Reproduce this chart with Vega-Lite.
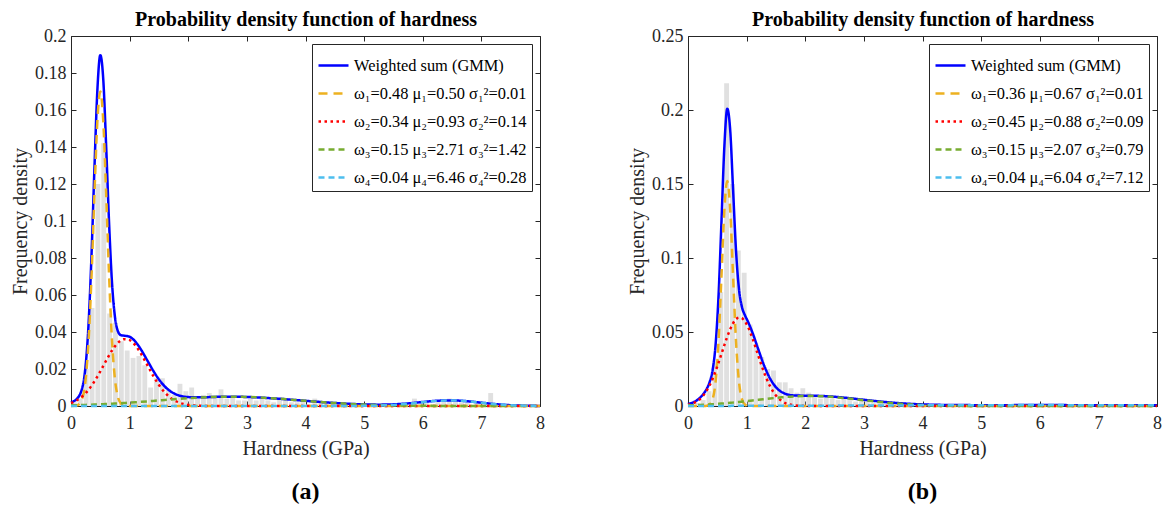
{
  "$schema": "https://vega.github.io/schema/vega-lite/v6.json",
  "padding": {"left": 10, "top": 9, "right": 5, "bottom": 0},
  "background": "white",
  "datasets": {
    "ha": [
      {"lo":0.0,"hi":0.1,"f":0.002},{"lo":0.1,"hi":0.2,"f":0.004},{"lo":0.2,"hi":0.3,"f":0.02},{"lo":0.3,"hi":0.4,"f":0.053},
      {"lo":0.4,"hi":0.5,"f":0.12},{"lo":0.5,"hi":0.6,"f":0.142},{"lo":0.6,"hi":0.7,"f":0.05},{"lo":0.7,"hi":0.8,"f":0.045},
      {"lo":0.8,"hi":0.9,"f":0.035},{"lo":0.9,"hi":1.0,"f":0.03},{"lo":1.0,"hi":1.1,"f":0.026},{"lo":1.1,"hi":1.2,"f":0.027},
      {"lo":1.2,"hi":1.3,"f":0.022},{"lo":1.3,"hi":1.4,"f":0.01},{"lo":1.4,"hi":1.5,"f":0.015},{"lo":1.5,"hi":1.6,"f":0.015},
      {"lo":1.6,"hi":1.7,"f":0.009},{"lo":1.7,"hi":1.8,"f":0.006},{"lo":1.8,"hi":1.9,"f":0.012},{"lo":1.9,"hi":2.0,"f":0.008},
      {"lo":2.0,"hi":2.1,"f":0.01},{"lo":2.1,"hi":2.2,"f":0.004},{"lo":2.2,"hi":2.3,"f":0.006},{"lo":2.3,"hi":2.4,"f":0.007},
      {"lo":2.4,"hi":2.5,"f":0.005},{"lo":2.5,"hi":2.6,"f":0.009},{"lo":2.6,"hi":2.7,"f":0.004},{"lo":2.7,"hi":2.8,"f":0.005},
      {"lo":2.8,"hi":2.9,"f":0.003},{"lo":2.9,"hi":3.0,"f":0.003},{"lo":3.0,"hi":3.1,"f":0.004},{"lo":3.1,"hi":3.2,"f":0.003},
      {"lo":3.2,"hi":3.3,"f":0.004},{"lo":3.3,"hi":3.4,"f":0.003},{"lo":3.4,"hi":3.5,"f":0.002},{"lo":3.5,"hi":3.6,"f":0.004},
      {"lo":3.6,"hi":3.7,"f":0.004},{"lo":3.7,"hi":3.8,"f":0.002},{"lo":3.8,"hi":3.9,"f":0.002},{"lo":3.9,"hi":4.0,"f":0.003},
      {"lo":4.0,"hi":4.1,"f":0.001},{"lo":4.1,"hi":4.2,"f":0.004},{"lo":4.2,"hi":4.3,"f":0.002},{"lo":4.3,"hi":4.4,"f":0.001},
      {"lo":4.4,"hi":4.5,"f":0.002},{"lo":4.5,"hi":4.6,"f":0.001},{"lo":4.7,"hi":4.8,"f":0.001},{"lo":5.0,"hi":5.1,"f":0.001},
      {"lo":5.2,"hi":5.3,"f":0.001},{"lo":5.5,"hi":5.6,"f":0.001},{"lo":5.7,"hi":5.8,"f":0.001},{"lo":5.8,"hi":5.9,"f":0.004},
      {"lo":5.9,"hi":6.0,"f":0.002},{"lo":6.0,"hi":6.1,"f":0.002},{"lo":6.2,"hi":6.3,"f":0.003},{"lo":6.3,"hi":6.4,"f":0.003},
      {"lo":6.4,"hi":6.5,"f":0.004},{"lo":6.5,"hi":6.6,"f":0.003},{"lo":6.6,"hi":6.7,"f":0.002},{"lo":6.7,"hi":6.8,"f":0.002},
      {"lo":6.9,"hi":7.0,"f":0.002},{"lo":7.1,"hi":7.2,"f":0.007},{"lo":7.3,"hi":7.4,"f":0.001}
    ],
    "hb": [
      {"lo":0.0,"hi":0.1,"f":0.001},{"lo":0.1,"hi":0.2,"f":0.002},{"lo":0.2,"hi":0.3,"f":0.004},{"lo":0.3,"hi":0.4,"f":0.01},
      {"lo":0.4,"hi":0.5,"f":0.03},{"lo":0.5,"hi":0.6,"f":0.077},{"lo":0.6,"hi":0.7,"f":0.218},{"lo":0.7,"hi":0.8,"f":0.15},
      {"lo":0.8,"hi":0.9,"f":0.105},{"lo":0.9,"hi":1.0,"f":0.09},{"lo":1.0,"hi":1.1,"f":0.055},{"lo":1.1,"hi":1.2,"f":0.042},
      {"lo":1.2,"hi":1.3,"f":0.033},{"lo":1.3,"hi":1.4,"f":0.025},{"lo":1.4,"hi":1.5,"f":0.024},{"lo":1.5,"hi":1.6,"f":0.016},
      {"lo":1.6,"hi":1.7,"f":0.016},{"lo":1.7,"hi":1.8,"f":0.012},{"lo":1.8,"hi":1.9,"f":0.009},{"lo":1.9,"hi":2.0,"f":0.012},
      {"lo":2.0,"hi":2.1,"f":0.009},{"lo":2.1,"hi":2.2,"f":0.006},{"lo":2.2,"hi":2.3,"f":0.005},{"lo":2.3,"hi":2.4,"f":0.007},
      {"lo":2.4,"hi":2.5,"f":0.005},{"lo":2.5,"hi":2.6,"f":0.004},{"lo":2.6,"hi":2.7,"f":0.005},{"lo":2.7,"hi":2.8,"f":0.004},
      {"lo":2.8,"hi":2.9,"f":0.003},{"lo":2.9,"hi":3.0,"f":0.004},{"lo":3.0,"hi":3.1,"f":0.003},{"lo":3.1,"hi":3.2,"f":0.002},
      {"lo":3.2,"hi":3.3,"f":0.003},{"lo":3.3,"hi":3.4,"f":0.002},{"lo":3.5,"hi":3.6,"f":0.002},{"lo":3.6,"hi":3.7,"f":0.002},
      {"lo":3.8,"hi":3.9,"f":0.001},{"lo":4.0,"hi":4.1,"f":0.001},{"lo":4.5,"hi":4.6,"f":0.001},{"lo":5.0,"hi":5.1,"f":0.001},
      {"lo":6.0,"hi":6.1,"f":0.001},{"lo":6.5,"hi":6.6,"f":0.001},{"lo":7.0,"hi":7.1,"f":0.001}
    ],
    "ca": [
      {"x":0,"k0":0.00204,"k1":0.00001,"k2":0.00165,"k3":0.00038,"k4":0},
      {"x":0.1,"k0":0.00386,"k1":0.00031,"k2":0.0031,"k3":0.00046,"k4":0},
      {"x":0.2,"k0":0.01086,"k1":0.0049,"k2":0.00541,"k3":0.00055,"k4":0},
      {"x":0.25,"k0":0.02204,"k1":0.01449,"k2":0.00696,"k3":0.0006,"k4":0},
      {"x":0.3,"k0":0.0446,"k1":0.03516,"k2":0.00879,"k3":0.00065,"k4":0},
      {"x":0.35,"k0":0.08167,"k1":0.07006,"k2":0.01091,"k3":0.00071,"k4":0},
      {"x":0.4,"k0":0.12866,"k1":0.1146,"k2":0.0133,"k3":0.00077,"k4":0},
      {"x":0.45,"k0":0.17085,"k1":0.1541,"k2":0.01592,"k3":0.00083,"k4":0},
      {"x":0.5,"k0":0.18964,"k1":0.17,"k2":0.01874,"k3":0.0009,"k4":0},
      {"x":0.55,"k0":0.17672,"k1":0.1541,"k2":0.02165,"k3":0.00097,"k4":0},
      {"x":0.6,"k0":0.14022,"k1":0.1146,"k2":0.02458,"k3":0.00105,"k4":0},
      {"x":0.65,"k0":0.09859,"k1":0.07006,"k2":0.02741,"k3":0.00113,"k4":0},
      {"x":0.7,"k0":0.06639,"k1":0.03516,"k2":0.03002,"k3":0.00121,"k4":0},
      {"x":0.75,"k0":0.04809,"k1":0.01449,"k2":0.0323,"k3":0.0013,"k4":0},
      {"x":0.8,"k0":0.04043,"k1":0.0049,"k2":0.03414,"k3":0.00139,"k4":0},
      {"x":0.85,"k0":0.03829,"k1":0.00136,"k2":0.03544,"k3":0.00149,"k4":0},
      {"x":0.9,"k0":0.03804,"k1":0.00031,"k2":0.03614,"k3":0.00159,"k4":0},
      {"x":1.0,"k0":0.03742,"k1":0,"k2":0.03563,"k3":0.00179,"k4":0},
      {"x":1.1,"k0":0.03472,"k1":0,"k2":0.0327,"k3":0.00202,"k4":0},
      {"x":1.2,"k0":0.0302,"k1":0,"k2":0.02795,"k3":0.00225,"k4":0},
      {"x":1.3,"k0":0.02473,"k1":0,"k2":0.02224,"k3":0.00249,"k4":0},
      {"x":1.4,"k0":0.01922,"k1":0,"k2":0.01648,"k3":0.00274,"k4":0},
      {"x":1.5,"k0":0.01436,"k1":0,"k2":0.01136,"k3":0.003,"k4":0},
      {"x":1.6,"k0":0.01055,"k1":0,"k2":0.0073,"k3":0.00325,"k4":0},
      {"x":1.7,"k0":0.00787,"k1":0,"k2":0.00436,"k3":0.00351,"k4":0},
      {"x":1.8,"k0":0.00618,"k1":0,"k2":0.00243,"k3":0.00375,"k4":0},
      {"x":2.0,"k0":0.00481,"k1":0,"k2":0.00061,"k3":0.00421,"k4":0},
      {"x":2.2,"k0":0.0047,"k1":0,"k2":0.00011,"k3":0.00458,"k4":0},
      {"x":2.5,"k0":0.00495,"k1":0,"k2":0,"k3":0.00495,"k4":0},
      {"x":2.75,"k0":0.00502,"k1":0,"k2":0,"k3":0.00502,"k4":0},
      {"x":3.0,"k0":0.00488,"k1":0,"k2":0,"k3":0.00488,"k4":0},
      {"x":3.5,"k0":0.00403,"k1":0,"k2":0,"k3":0.00403,"k4":0},
      {"x":4.0,"k0":0.0028,"k1":0,"k2":0,"k3":0.0028,"k4":0},
      {"x":4.5,"k0":0.00163,"k1":0,"k2":0,"k3":0.00163,"k4":0},
      {"x":5.0,"k0":0.00086,"k1":0,"k2":0,"k3":0.00079,"k4":0.00007},
      {"x":5.25,"k0":0.00074,"k1":0,"k2":0,"k3":0.00052,"k4":0.00022},
      {"x":5.5,"k0":0.00091,"k1":0,"k2":0,"k3":0.00032,"k4":0.00058},
      {"x":5.75,"k0":0.00142,"k1":0,"k2":0,"k3":0.00019,"k4":0.00123},
      {"x":6.0,"k0":0.00218,"k1":0,"k2":0,"k3":0.00011,"k4":0.00207},
      {"x":6.25,"k0":0.00285,"k1":0,"k2":0,"k3":0.00006,"k4":0.00279},
      {"x":6.5,"k0":0.00304,"k1":0,"k2":0,"k3":0.00003,"k4":0.00301},
      {"x":6.75,"k0":0.00261,"k1":0,"k2":0,"k3":0.00002,"k4":0.0026},
      {"x":7.0,"k0":0.0018,"k1":0,"k2":0,"k3":0.00001,"k4":0.00179},
      {"x":7.25,"k0":0.00099,"k1":0,"k2":0,"k3":0,"k4":0.00099},
      {"x":7.5,"k0":0.00044,"k1":0,"k2":0,"k3":0,"k4":0.00044},
      {"x":8.0,"k0":0.00004,"k1":0,"k2":0,"k3":0,"k4":0.00004}
    ],
    "cb": [
      {"x":0,"k0":0.0013,"k1":0,"k2":0.00081,"k3":0.00045,"k4":0.00005},
      {"x":0.1,"k0":0.00266,"k1":0,"k2":0.00204,"k3":0.00058,"k4":0.00005},
      {"x":0.2,"k0":0.00538,"k1":0,"k2":0.00459,"k3":0.00074,"k4":0.00005},
      {"x":0.27,"k0":0.00852,"k1":0.00002,"k2":0.00757,"k3":0.00087,"k4":0.00006},
      {"x":0.32,"k0":0.01167,"k1":0.00016,"k2":0.01048,"k3":0.00097,"k4":0.00006},
      {"x":0.37,"k0":0.01624,"k1":0.00099,"k2":0.01411,"k3":0.00108,"k4":0.00006},
      {"x":0.42,"k0":0.02433,"k1":0.0046,"k2":0.01847,"k3":0.0012,"k4":0.00007},
      {"x":0.47,"k0":0.04111,"k1":0.01619,"k2":0.02352,"k3":0.00133,"k4":0.00007},
      {"x":0.52,"k0":0.07379,"k1":0.04312,"k2":0.02913,"k3":0.00147,"k4":0.00007},
      {"x":0.57,"k0":0.12361,"k1":0.08683,"k2":0.03509,"k3":0.00162,"k4":0.00007},
      {"x":0.62,"k0":0.1751,"k1":0.13214,"k2":0.04111,"k3":0.00178,"k4":0.00008},
      {"x":0.67,"k0":0.20086,"k1":0.152,"k2":0.04684,"k3":0.00195,"k4":0.00008},
      {"x":0.72,"k0":0.18625,"k1":0.13214,"k2":0.05191,"k3":0.00212,"k4":0.00008},
      {"x":0.77,"k0":0.14518,"k1":0.08683,"k2":0.05595,"k3":0.00231,"k4":0.00009},
      {"x":0.82,"k0":0.10437,"k1":0.04312,"k2":0.05866,"k3":0.00251,"k4":0.00009},
      {"x":0.87,"k0":0.0788,"k1":0.01619,"k2":0.05981,"k3":0.00271,"k4":0.00009},
      {"x":0.92,"k0":0.06692,"k1":0.0046,"k2":0.05931,"k3":0.00292,"k4":0.0001},
      {"x":0.97,"k0":0.06142,"k1":0.00099,"k2":0.05721,"k3":0.00313,"k4":0.0001},
      {"x":1.02,"k0":0.05728,"k1":0.00016,"k2":0.05367,"k3":0.00335,"k4":0.0001},
      {"x":1.1,"k0":0.04955,"k1":0,"k2":0.04573,"k3":0.00371,"k4":0.00011},
      {"x":1.2,"k0":0.03817,"k1":0,"k2":0.03388,"k3":0.00417,"k4":0.00012},
      {"x":1.3,"k0":0.02721,"k1":0,"k2":0.02246,"k3":0.00463,"k4":0.00012},
      {"x":1.4,"k0":0.01852,"k1":0,"k2":0.01332,"k3":0.00507,"k4":0.00013},
      {"x":1.5,"k0":0.01269,"k1":0,"k2":0.00707,"k3":0.00548,"k4":0.00014},
      {"x":1.6,"k0":0.00936,"k1":0,"k2":0.00336,"k3":0.00586,"k4":0.00015},
      {"x":1.8,"k0":0.00714,"k1":0,"k2":0.00054,"k3":0.00643,"k4":0.00017},
      {"x":2.0,"k0":0.00696,"k1":0,"k2":0.00006,"k3":0.00671,"k4":0.00019},
      {"x":2.25,"k0":0.00682,"k1":0,"k2":0,"k3":0.0066,"k4":0.00022},
      {"x":2.5,"k0":0.00624,"k1":0,"k2":0,"k3":0.00599,"k4":0.00025},
      {"x":2.75,"k0":0.00531,"k1":0,"k2":0,"k3":0.00503,"k4":0.00028},
      {"x":3.0,"k0":0.00421,"k1":0,"k2":0,"k3":0.0039,"k4":0.00031},
      {"x":3.5,"k0":0.00223,"k1":0,"k2":0,"k3":0.00185,"k4":0.00038},
      {"x":4.0,"k0":0.00108,"k1":0,"k2":0,"k3":0.00064,"k4":0.00045},
      {"x":4.5,"k0":0.00067,"k1":0,"k2":0,"k3":0.00016,"k4":0.00051},
      {"x":5.0,"k0":0.00058,"k1":0,"k2":0,"k3":0.00003,"k4":0.00055},
      {"x":5.5,"k0":0.00059,"k1":0,"k2":0,"k3":0,"k4":0.00059},
      {"x":6.0,"k0":0.0006,"k1":0,"k2":0,"k3":0,"k4":0.0006},
      {"x":6.5,"k0":0.00059,"k1":0,"k2":0,"k3":0,"k4":0.00059},
      {"x":7.0,"k0":0.00056,"k1":0,"k2":0,"k3":0,"k4":0.00056},
      {"x":7.5,"k0":0.00052,"k1":0,"k2":0,"k3":0,"k4":0.00052},
      {"x":8.0,"k0":0.00046,"k1":0,"k2":0,"k3":0,"k4":0.00046}
    ]
  },
  "hconcat": [
    {
      "width": 469, "height": 370,
      "title": {"text": "(a)", "orient": "bottom", "anchor": "middle", "frame": "group", "fontSize": 24, "fontWeight": "bold", "offset": 22},
      "resolve": {"axis": {"x": "independent", "y": "independent"}},
      "layer": [
        {
          "data": {"name": "ha"},
          "mark": {"type": "bar", "color": "#e0e0e0", "binSpacing": 1},
          "encoding": {
            "x": {"field": "lo", "type": "quantitative", "bin": {"binned": true}, "scale": {"domain": [0, 8], "nice": false},
                  "axis": {"orient": "bottom", "values": [0,1,2,3,4,5,6,7,8], "title": "Hardness (GPa)", "labelPadding": 13, "titlePadding": 6}},
            "x2": {"field": "hi"},
            "y": {"field": "f", "type": "quantitative", "scale": {"domain": [0, 0.2], "nice": false},
                  "axis": {"orient": "left", "values": [0,0.02,0.04,0.06,0.08,0.1,0.12,0.14,0.16,0.18,0.2], "format": "~g", "title": "Frequency density"}}
          }
        },
        {
          "data": {"name": "ca"},
          "transform": [{"fold": ["k0","k1","k2","k3","k4"], "as": ["k", "y"]}],
          "mark": {"type": "line", "strokeWidth": 2.5, "interpolate": "monotone"},
          "encoding": {
            "x": {"field": "x", "type": "quantitative", "scale": {"domain": [0, 8], "nice": false},
                  "axis": {"orient": "top", "values": [0,1,2,3,4,5,6,7,8], "labels": false, "title": "Probability density function of hardness",
                           "titleFontWeight": "bold", "titleColor": "#000000", "titlePadding": 6}},
            "y": {"field": "y", "type": "quantitative", "scale": {"domain": [0, 0.2], "nice": false},
                  "axis": {"orient": "right", "values": [0,0.02,0.04,0.06,0.08,0.1,0.12,0.14,0.16,0.18,0.2], "labels": false, "title": null}},
            "color": {"field": "k", "type": "nominal",
                      "scale": {"domain": ["k0","k1","k2","k3","k4"], "range": ["#0000ff","#edb120","#ff0000","#77ac30","#4dbeee"]},
                      "legend": {"title": null, "labelExpr": "datum.label == 'k0' ? 'Weighted sum (GMM)' : datum.label == 'k1' ? 'ω₁=0.48 μ₁=0.50 σ₁²=0.01' : datum.label == 'k2' ? 'ω₂=0.34 μ₂=0.93 σ₂²=0.14' : datum.label == 'k3' ? 'ω₃=0.15 μ₃=2.71 σ₃²=1.42' : 'ω₄=0.04 μ₄=6.46 σ₄²=0.28'"}},
            "strokeDash": {"field": "k", "type": "nominal",
                      "scale": {"domain": ["k0","k1","k2","k3","k4"], "range": [[1,0],[9,6],[2.5,3.5],[6,4],[6,4]]},
                      "legend": {"title": null, "labelExpr": "datum.label == 'k0' ? 'Weighted sum (GMM)' : datum.label == 'k1' ? 'ω₁=0.48 μ₁=0.50 σ₁²=0.01' : datum.label == 'k2' ? 'ω₂=0.34 μ₂=0.93 σ₂²=0.14' : datum.label == 'k3' ? 'ω₃=0.15 μ₃=2.71 σ₃²=1.42' : 'ω₄=0.04 μ₄=6.46 σ₄²=0.28'"}}
          }
        }
      ]
    },
    {
      "width": 469, "height": 370,
      "title": {"text": "(b)", "orient": "bottom", "anchor": "middle", "frame": "group", "fontSize": 24, "fontWeight": "bold", "offset": 22},
      "resolve": {"axis": {"x": "independent", "y": "independent"}},
      "layer": [
        {
          "data": {"name": "hb"},
          "mark": {"type": "bar", "color": "#e0e0e0", "binSpacing": 1},
          "encoding": {
            "x": {"field": "lo", "type": "quantitative", "bin": {"binned": true}, "scale": {"domain": [0, 8], "nice": false},
                  "axis": {"orient": "bottom", "values": [0,1,2,3,4,5,6,7,8], "title": "Hardness (GPa)", "labelPadding": 13, "titlePadding": 6}},
            "x2": {"field": "hi"},
            "y": {"field": "f", "type": "quantitative", "scale": {"domain": [0, 0.25], "nice": false},
                  "axis": {"orient": "left", "values": [0,0.05,0.1,0.15,0.2,0.25], "format": "~g", "title": "Frequency density"}}
          }
        },
        {
          "data": {"name": "cb"},
          "transform": [{"fold": ["k0","k1","k2","k3","k4"], "as": ["k", "y"]}],
          "mark": {"type": "line", "strokeWidth": 2.5, "interpolate": "monotone"},
          "encoding": {
            "x": {"field": "x", "type": "quantitative", "scale": {"domain": [0, 8], "nice": false},
                  "axis": {"orient": "top", "values": [0,1,2,3,4,5,6,7,8], "labels": false, "title": "Probability density function of hardness",
                           "titleFontWeight": "bold", "titleColor": "#000000", "titlePadding": 6}},
            "y": {"field": "y", "type": "quantitative", "scale": {"domain": [0, 0.25], "nice": false},
                  "axis": {"orient": "right", "values": [0,0.05,0.1,0.15,0.2,0.25], "labels": false, "title": null}},
            "color": {"field": "k", "type": "nominal",
                      "scale": {"domain": ["k0","k1","k2","k3","k4"], "range": ["#0000ff","#edb120","#ff0000","#77ac30","#4dbeee"]},
                      "legend": {"title": null, "labelExpr": "datum.label == 'k0' ? 'Weighted sum (GMM)' : datum.label == 'k1' ? 'ω₁=0.36 μ₁=0.67 σ₁²=0.01' : datum.label == 'k2' ? 'ω₂=0.45 μ₂=0.88 σ₂²=0.09' : datum.label == 'k3' ? 'ω₃=0.15 μ₃=2.07 σ₃²=0.79' : 'ω₄=0.04 μ₄=6.04 σ₄²=7.12'"}},
            "strokeDash": {"field": "k", "type": "nominal",
                      "scale": {"domain": ["k0","k1","k2","k3","k4"], "range": [[1,0],[9,6],[2.5,3.5],[6,4],[6,4]]},
                      "legend": {"title": null, "labelExpr": "datum.label == 'k0' ? 'Weighted sum (GMM)' : datum.label == 'k1' ? 'ω₁=0.36 μ₁=0.67 σ₁²=0.01' : datum.label == 'k2' ? 'ω₂=0.45 μ₂=0.88 σ₂²=0.09' : datum.label == 'k3' ? 'ω₃=0.15 μ₃=2.07 σ₃²=0.79' : 'ω₄=0.04 μ₄=6.04 σ₄²=7.12'"}}
          }
        }
      ]
    }
  ],
  "spacing": 81,
  "resolve": {"scale": {"color": "independent", "strokeDash": "independent"}},
  "config": {
    "font": "Liberation Serif",
    "view": {"stroke": "#262626", "strokeWidth": 1},
    "axis": {
      "labelFont": "Liberation Serif", "labelFontSize": 18, "labelColor": "#262626",
      "titleFont": "Liberation Serif", "titleFontSize": 20, "titleFontWeight": "normal", "titleColor": "#262626",
      "tickColor": "#262626", "tickSize": -5, "domain": false, "grid": false,
      "labelPadding": 10, "titlePadding": 4, "labelFlush": false, "labelOverlap": false
    },
    "title": {"font": "Liberation Serif", "fontSize": 20, "fontWeight": "bold", "color": "#000000"},
    "legend": {
      "orient": "top-right", "offset": 8, "padding": 5, "rowPadding": 3,
      "strokeColor": "#262626", "fillColor": "#ffffff",
      "labelFont": "Liberation Serif", "labelFontSize": 16.4, "labelColor": "#000000", "labelLimit": 400,
      "symbolType": "stroke", "symbolSize": 900, "symbolStrokeWidth": 2.5, "labelOffset": 4
    }
  }
}
